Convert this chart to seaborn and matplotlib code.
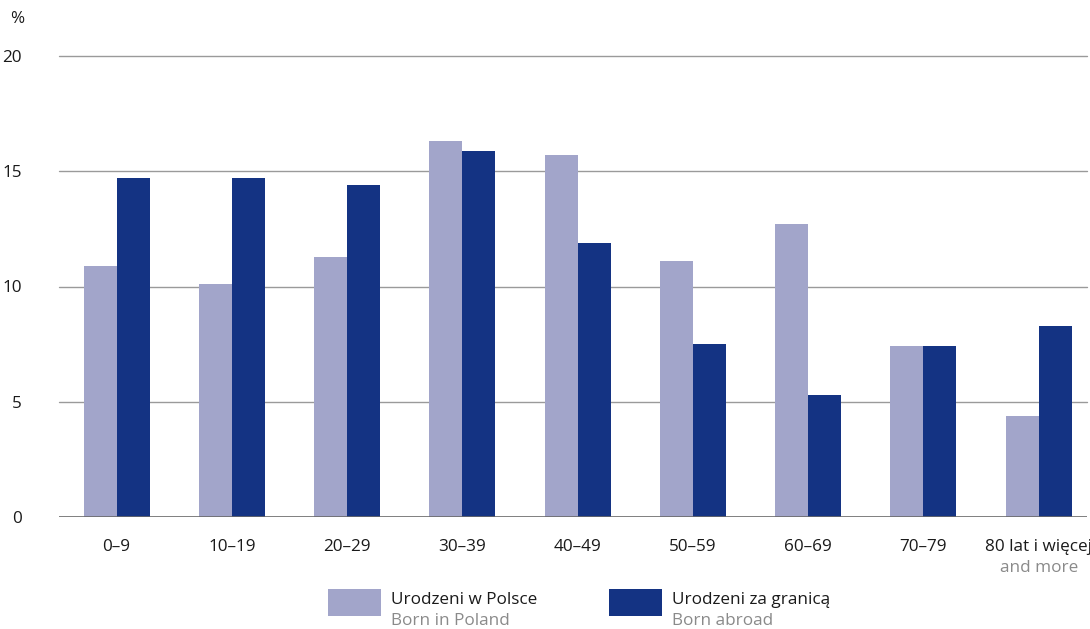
import numpy as np
import pandas as pd
import matplotlib
matplotlib.use("Agg")
import matplotlib.pyplot as plt
from matplotlib.patches import Rectangle
import seaborn as sns

# data
age_groups = ["0–9", "10–19", "20–29", "30–39", "40–49", "50–59", "60–69", "70–79", "80 lat i więcej"]
born_poland = [10.9, 10.1, 11.3, 16.3, 15.7, 11.1, 12.7, 7.4, 4.4]
born_abroad = [14.7, 14.7, 14.4, 15.9, 11.9, 7.5, 5.3, 7.4, 8.3]
series_pl = ["Urodzeni w Polsce", "Urodzeni za granicą"]
series_en = ["Born in Poland", "Born abroad"]

LIGHT = "#a2a5ca"
DARK = "#143383"
TXT = "#1a1a1a"
GREY_TXT = "#8a8a8a"
FS = 12.3

df = pd.DataFrame({
    "age": age_groups * 2,
    "value": born_poland + born_abroad,
    "series": [series_pl[0]] * len(age_groups) + [series_pl[1]] * len(age_groups),
})

sns.set_theme(style="white")
plt.rcParams["font.family"] = ["Open Sans", "DejaVu Sans"]

fig = plt.figure(figsize=(10.9, 6.29), dpi=100)
W, H = 1090, 629
ax = fig.add_axes([59 / W, 1 - 517 / H, (1087 - 59) / W, (517 - 56) / H])

sns.barplot(data=df, x="age", y="value", hue="series", order=age_groups,
            palette=[LIGHT, DARK], saturation=1, width=0.574, gap=0, dodge=True,
            linewidth=0, legend=False, ax=ax, zorder=3)

ax.set_ylim(0, 20)
ax.set_xlim(-0.5, 8.42)
ax.set_yticks([0, 5, 10, 15, 20])
for v in [5, 10, 15, 20]:
    ax.axhline(v, color="#9a9a9a", lw=1.0, zorder=1, clip_on=False)
ax.axhline(0, color="#6a6a6a", lw=1.2, zorder=4)

for s in ax.spines.values():
    s.set_visible(False)
ax.set_xlabel("")
ax.set_ylabel("")
ax.tick_params(axis="y", length=0, pad=27, labelsize=FS, labelcolor=TXT)
ax.tick_params(axis="x", length=0, pad=16, labelsize=FS, labelcolor=TXT)
for lab in ax.get_yticklabels():
    lab.set_horizontalalignment("right")

# second line under the last category
fig.text(1039 / W, 1 - 568 / H, "and more", ha="center", va="center", fontsize=FS,
         color=GREY_TXT)

fig.text(10 / W, 1 - 19 / H, "%", ha="left", va="center", fontsize=FS, color=TXT)

# legend
for i, (col, x0) in enumerate([(LIGHT, 328), (DARK, 609)]):
    fig.add_artist(Rectangle((x0 / W, 1 - 616 / H), 53 / W, 27 / H,
                             transform=fig.transFigure, facecolor=col, edgecolor="none"))
    fig.text((x0 + 63) / W, 1 - 600 / H, series_pl[i], ha="left", va="center",
             fontsize=FS, color=TXT)
    fig.text((x0 + 63) / W, 1 - 621 / H, series_en[i], ha="left", va="center",
             fontsize=FS, color=GREY_TXT)

fig.savefig("out.png", dpi=100)
